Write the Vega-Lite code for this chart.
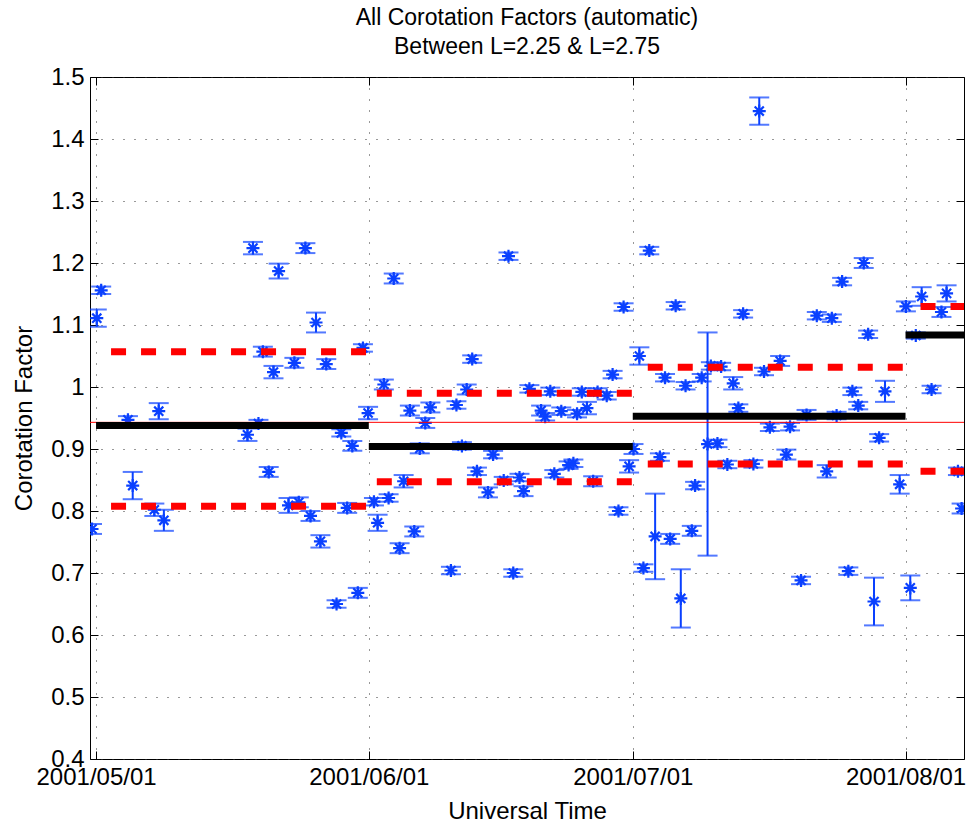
{
  "$schema": "https://vega.github.io/schema/vega-lite/v6.json",
  "width": 874,
  "height": 682,
  "autosize": {"type": "none"},
  "padding": {"left": 90, "top": 77, "right": 3, "bottom": 66},
  "background": "white",
  "title": {
    "text": ["All Corotation Factors (automatic)", "Between L=2.25 & L=2.75"],
    "font": "Liberation Sans",
    "fontSize": 23,
    "fontWeight": "normal",
    "color": "black",
    "offset": 6,
    "lineHeight": 29,
    "anchor": "middle"
  },
  "config": {
    "view": {"stroke": "black", "strokeWidth": 1},
    "axis": {
      "labelFont": "Liberation Sans",
      "titleFont": "Liberation Sans",
      "labelColor": "black",
      "titleColor": "black",
      "tickColor": "black",
      "domainColor": "black",
      "titleFontWeight": "normal"
    }
  },
  "datasets": {
    "pts": [
      {"t": "2001-04-30T13:00", "v": 0.771, "e": 0.008},
      {"t": "2001-05-01T02:00", "v": 1.111, "e": 0.014},
      {"t": "2001-05-01T14:00", "v": 1.156, "e": 0.006},
      {"t": "2001-05-04T15:00", "v": 0.947, "e": 0.006},
      {"t": "2001-05-05T04:00", "v": 0.841, "e": 0.022},
      {"t": "2001-05-07T15:00", "v": 0.802, "e": 0.01},
      {"t": "2001-05-08T03:00", "v": 0.961, "e": 0.013},
      {"t": "2001-05-08T17:00", "v": 0.785, "e": 0.017},
      {"t": "2001-05-18T05:00", "v": 0.923, "e": 0.01},
      {"t": "2001-05-18T20:00", "v": 1.224, "e": 0.01},
      {"t": "2001-05-19T11:00", "v": 0.941, "e": 0.006},
      {"t": "2001-05-19T23:00", "v": 1.057, "e": 0.008},
      {"t": "2001-05-20T15:00", "v": 0.863, "e": 0.008},
      {"t": "2001-05-21T04:00", "v": 1.024, "e": 0.01},
      {"t": "2001-05-21T18:00", "v": 1.187, "e": 0.012},
      {"t": "2001-05-22T21:00", "v": 0.809, "e": 0.012},
      {"t": "2001-05-23T13:00", "v": 1.039, "e": 0.008},
      {"t": "2001-05-24T01:00", "v": 0.814, "e": 0.008},
      {"t": "2001-05-24T19:00", "v": 1.224, "e": 0.008},
      {"t": "2001-05-25T09:00", "v": 0.792, "e": 0.008},
      {"t": "2001-05-26T00:00", "v": 1.104, "e": 0.016},
      {"t": "2001-05-26T12:00", "v": 0.751, "e": 0.01},
      {"t": "2001-05-27T04:00", "v": 1.037, "e": 0.008},
      {"t": "2001-05-28T08:00", "v": 0.65, "e": 0.006},
      {"t": "2001-05-28T21:00", "v": 0.926, "e": 0.006},
      {"t": "2001-05-29T13:00", "v": 0.805, "e": 0.008},
      {"t": "2001-05-30T03:00", "v": 0.905, "e": 0.008},
      {"t": "2001-05-30T18:00", "v": 0.668, "e": 0.008},
      {"t": "2001-05-31T08:00", "v": 1.063, "e": 0.006},
      {"t": "2001-05-31T22:00", "v": 0.958, "e": 0.01},
      {"t": "2001-06-01T14:00", "v": 0.815, "e": 0.006},
      {"t": "2001-06-02T00:00", "v": 0.781, "e": 0.013},
      {"t": "2001-06-02T17:00", "v": 1.004, "e": 0.008},
      {"t": "2001-06-03T06:00", "v": 0.821, "e": 0.006},
      {"t": "2001-06-03T20:00", "v": 1.175, "e": 0.008},
      {"t": "2001-06-04T12:00", "v": 0.74, "e": 0.008},
      {"t": "2001-06-04T23:00", "v": 0.848, "e": 0.01},
      {"t": "2001-06-05T16:00", "v": 0.962, "e": 0.008},
      {"t": "2001-06-06T04:00", "v": 0.767, "e": 0.008},
      {"t": "2001-06-06T19:00", "v": 0.901, "e": 0.008},
      {"t": "2001-06-07T10:00", "v": 0.942, "e": 0.008},
      {"t": "2001-06-08T00:00", "v": 0.967, "e": 0.008},
      {"t": "2001-06-10T08:00", "v": 0.704, "e": 0.006},
      {"t": "2001-06-10T23:00", "v": 0.971, "e": 0.006},
      {"t": "2001-06-11T14:00", "v": 0.905, "e": 0.006},
      {"t": "2001-06-12T03:00", "v": 0.996, "e": 0.008},
      {"t": "2001-06-12T18:00", "v": 1.045, "e": 0.006},
      {"t": "2001-06-13T07:00", "v": 0.864, "e": 0.006},
      {"t": "2001-06-14T13:00", "v": 0.83, "e": 0.008},
      {"t": "2001-06-15T03:00", "v": 0.891, "e": 0.006},
      {"t": "2001-06-16T08:00", "v": 0.849, "e": 0.006},
      {"t": "2001-06-16T21:00", "v": 1.211, "e": 0.006},
      {"t": "2001-06-17T10:00", "v": 0.7, "e": 0.006},
      {"t": "2001-06-18T03:00", "v": 0.854, "e": 0.006},
      {"t": "2001-06-18T14:00", "v": 0.832, "e": 0.008},
      {"t": "2001-06-19T06:00", "v": 0.997, "e": 0.006},
      {"t": "2001-06-20T14:00", "v": 0.962, "e": 0.008},
      {"t": "2001-06-21T01:00", "v": 0.952, "e": 0.006},
      {"t": "2001-06-21T15:00", "v": 0.993, "e": 0.006},
      {"t": "2001-06-22T02:00", "v": 0.86, "e": 0.006},
      {"t": "2001-06-22T21:00", "v": 0.961, "e": 0.006},
      {"t": "2001-06-23T17:00", "v": 0.874, "e": 0.006},
      {"t": "2001-06-24T06:00", "v": 0.877, "e": 0.006},
      {"t": "2001-06-24T16:00", "v": 0.957, "e": 0.006},
      {"t": "2001-06-25T05:00", "v": 0.992, "e": 0.006},
      {"t": "2001-06-25T19:00", "v": 0.966, "e": 0.01},
      {"t": "2001-06-26T12:00", "v": 0.848, "e": 0.008},
      {"t": "2001-06-27T00:00", "v": 0.992, "e": 0.006},
      {"t": "2001-06-28T01:00", "v": 0.986, "e": 0.006},
      {"t": "2001-06-28T17:00", "v": 1.02, "e": 0.006},
      {"t": "2001-06-29T09:00", "v": 0.8, "e": 0.006},
      {"t": "2001-06-29T23:00", "v": 1.129, "e": 0.006},
      {"t": "2001-06-30T14:00", "v": 0.872, "e": 0.01},
      {"t": "2001-07-01T02:00", "v": 0.9, "e": 0.008},
      {"t": "2001-07-01T18:00", "v": 1.05, "e": 0.014},
      {"t": "2001-07-02T05:00", "v": 0.708, "e": 0.006},
      {"t": "2001-07-02T21:00", "v": 1.22, "e": 0.006},
      {"t": "2001-07-03T13:00", "v": 0.759, "e": 0.069},
      {"t": "2001-07-04T02:00", "v": 0.887, "e": 0.006},
      {"t": "2001-07-04T16:00", "v": 1.015, "e": 0.006},
      {"t": "2001-07-05T06:00", "v": 0.755, "e": 0.008},
      {"t": "2001-07-05T21:00", "v": 1.131, "e": 0.006},
      {"t": "2001-07-06T11:00", "v": 0.659, "e": 0.047},
      {"t": "2001-07-07T00:00", "v": 1.002, "e": 0.006},
      {"t": "2001-07-07T17:00", "v": 0.768, "e": 0.008},
      {"t": "2001-07-08T02:00", "v": 0.841, "e": 0.006},
      {"t": "2001-07-08T20:00", "v": 1.015, "e": 0.006},
      {"t": "2001-07-09T12:00", "v": 0.908, "e": 0.18},
      {"t": "2001-07-09T21:00", "v": 1.034, "e": 0.006},
      {"t": "2001-07-10T15:00", "v": 0.909, "e": 0.006},
      {"t": "2001-07-11T01:00", "v": 1.033, "e": 0.006},
      {"t": "2001-07-11T18:00", "v": 0.875, "e": 0.006},
      {"t": "2001-07-12T10:00", "v": 1.006, "e": 0.01},
      {"t": "2001-07-13T00:00", "v": 0.966, "e": 0.006},
      {"t": "2001-07-13T13:00", "v": 1.118, "e": 0.006},
      {"t": "2001-07-14T17:00", "v": 0.876, "e": 0.006},
      {"t": "2001-07-15T09:00", "v": 1.445, "e": 0.022},
      {"t": "2001-07-15T22:00", "v": 1.025, "e": 0.006},
      {"t": "2001-07-16T14:00", "v": 0.935, "e": 0.006},
      {"t": "2001-07-17T18:00", "v": 1.042, "e": 0.008},
      {"t": "2001-07-18T11:00", "v": 0.891, "e": 0.008},
      {"t": "2001-07-18T21:00", "v": 0.936, "e": 0.006},
      {"t": "2001-07-20T03:00", "v": 0.688, "e": 0.006},
      {"t": "2001-07-20T18:00", "v": 0.955, "e": 0.008},
      {"t": "2001-07-21T22:00", "v": 1.115, "e": 0.006},
      {"t": "2001-07-23T01:00", "v": 0.864, "e": 0.01},
      {"t": "2001-07-23T15:00", "v": 1.111, "e": 0.006},
      {"t": "2001-07-24T04:00", "v": 0.954, "e": 0.006},
      {"t": "2001-07-24T19:00", "v": 1.17, "e": 0.006},
      {"t": "2001-07-25T12:00", "v": 0.703, "e": 0.006},
      {"t": "2001-07-25T23:00", "v": 0.993, "e": 0.006},
      {"t": "2001-07-26T15:00", "v": 0.97, "e": 0.006},
      {"t": "2001-07-27T06:00", "v": 1.2, "e": 0.008},
      {"t": "2001-07-27T18:00", "v": 1.085, "e": 0.006},
      {"t": "2001-07-28T10:00", "v": 0.654, "e": 0.0385},
      {"t": "2001-07-29T00:00", "v": 0.918, "e": 0.006},
      {"t": "2001-07-29T16:00", "v": 0.993, "e": 0.017},
      {"t": "2001-07-31T08:00", "v": 0.843, "e": 0.015},
      {"t": "2001-08-01T01:00", "v": 1.13, "e": 0.008},
      {"t": "2001-08-01T13:00", "v": 0.676, "e": 0.02},
      {"t": "2001-08-02T04:00", "v": 1.083, "e": 0.005},
      {"t": "2001-08-02T20:00", "v": 1.146, "e": 0.015},
      {"t": "2001-08-03T23:00", "v": 0.996, "e": 0.006},
      {"t": "2001-08-05T02:00", "v": 1.121, "e": 0.008},
      {"t": "2001-08-05T16:00", "v": 1.151, "e": 0.013},
      {"t": "2001-08-06T23:00", "v": 0.864, "e": 0.006},
      {"t": "2001-08-07T09:00", "v": 0.804, "e": 0.008}
    ],
    "lines": [
      {"k": "all", "m": 0, "t0": "2001-04-20T00:00", "t1": "2001-09-01T00:00", "y": 0.943},
      {"k": "mean", "m": 5, "t0": "2001-05-01T00:00", "t1": "2001-06-01T00:00", "y": 0.938},
      {"k": "sd", "m": 5, "t0": "2001-05-01T00:00", "t1": "2001-06-01T00:00", "y": 1.057},
      {"k": "sd", "m": 5, "t0": "2001-05-01T00:00", "t1": "2001-06-01T00:00", "y": 0.8075},
      {"k": "mean", "m": 6, "t0": "2001-06-01T00:00", "t1": "2001-07-01T00:00", "y": 0.904},
      {"k": "sd", "m": 6, "t0": "2001-06-01T00:00", "t1": "2001-07-01T00:00", "y": 0.99},
      {"k": "sd", "m": 6, "t0": "2001-06-01T00:00", "t1": "2001-07-01T00:00", "y": 0.847},
      {"k": "mean", "m": 7, "t0": "2001-07-01T00:00", "t1": "2001-08-01T00:00", "y": 0.953},
      {"k": "sd", "m": 7, "t0": "2001-07-01T00:00", "t1": "2001-08-01T00:00", "y": 1.032},
      {"k": "sd", "m": 7, "t0": "2001-07-01T00:00", "t1": "2001-08-01T00:00", "y": 0.876},
      {"k": "mean", "m": 8, "t0": "2001-08-01T00:00", "t1": "2001-09-01T00:00", "y": 1.084},
      {"k": "sd", "m": 8, "t0": "2001-08-01T00:00", "t1": "2001-09-01T00:00", "y": 1.13},
      {"k": "sd", "m": 8, "t0": "2001-08-01T00:00", "t1": "2001-09-01T00:00", "y": 0.864}
    ]
  },
  "layer": [
    {
      "data": {"name": "pts"},
      "encoding": {
        "x": {
          "field": "t", "type": "temporal",
          "scale": {"domain": [
            {"year": 2001, "month": 4, "date": 30, "hours": 7, "minutes": 30},
            {"year": 2001, "month": 8, "date": 7, "hours": 15, "minutes": 30}
          ]},
          "axis": {
            "orient": "bottom",
            "values": [
              {"year": 2001, "month": 5, "date": 1},
              {"year": 2001, "month": 6, "date": 1},
              {"year": 2001, "month": 7, "date": 1},
              {"year": 2001, "month": 8, "date": 1}
            ],
            "format": "%Y/%m/%d",
            "grid": true, "gridDash": [1, 10], "gridColor": "#333", "gridOpacity": 1,
            "tickSize": -8, "domain": false,
            "labelFontSize": 24, "labelPadding": 14, "labelFlush": false, "labelOverlap": false,
            "title": "Universal Time", "titleFontSize": 24, "titlePadding": 10
          }
        },
        "y": {
          "field": "v", "type": "quantitative",
          "scale": {"domain": [0.4, 1.5], "nice": false, "zero": false},
          "axis": {
            "orient": "left",
            "values": [0.4, 0.5, 0.6, 0.7, 0.8, 0.9, 1, 1.1, 1.2, 1.3, 1.4, 1.5],
            "format": ".2~f",
            "grid": true, "gridDash": [1, 10], "gridColor": "#333", "gridOpacity": 1,
            "tickSize": -8, "domain": false,
            "labelFontSize": 24, "labelPadding": 14,
            "title": "Corotation Factor", "titleFontSize": 24, "titlePadding": 14
          }
        }
      },
      "layer": [
        {
          "mark": {"type": "errorbar", "ticks": {"size": 20}, "thickness": 2, "color": "#0a40ff", "clip": true},
          "encoding": {"yError": {"field": "e"}}
        },
        {
          "mark": {
            "type": "point",
            "shape": "M-1,0L1,0M0,-1L0,1M-0.7,-0.7L0.7,0.7M-0.7,0.7L0.7,-0.7",
            "size": 169, "strokeWidth": 2.2, "color": "#0a40ff", "filled": false, "opacity": 1, "clip": true
          }
        }
      ]
    },
    {
      "data": {"name": "lines"},
      "encoding": {
        "x": {
          "field": "t0", "type": "temporal",
          "scale": {"domain": [
            {"year": 2001, "month": 4, "date": 30, "hours": 7, "minutes": 30},
            {"year": 2001, "month": 8, "date": 7, "hours": 15, "minutes": 30}
          ]},
          "axis": {
            "orient": "top",
            "values": [
              {"year": 2001, "month": 5, "date": 1},
              {"year": 2001, "month": 6, "date": 1},
              {"year": 2001, "month": 7, "date": 1},
              {"year": 2001, "month": 8, "date": 1}
            ],
            "labels": false, "grid": false, "domain": false, "tickSize": -8, "title": null
          }
        },
        "x2": {"field": "t1"},
        "y": {
          "field": "y", "type": "quantitative",
          "scale": {"domain": [0.4, 1.5], "nice": false, "zero": false},
          "axis": {
            "orient": "right",
            "values": [0.4, 0.5, 0.6, 0.7, 0.8, 0.9, 1, 1.1, 1.2, 1.3, 1.4, 1.5],
            "labels": false, "grid": false, "domain": false, "tickSize": -8, "title": null
          }
        }
      },
      "layer": [
        {
          "transform": [{"filter": "datum.k == 'all'"}],
          "mark": {"type": "rule", "color": "#ff0000", "strokeWidth": 1, "clip": true}
        },
        {
          "transform": [{"filter": "datum.k == 'mean'"}],
          "mark": {"type": "rule", "color": "#000000", "strokeWidth": 7, "clip": true}
        },
        {
          "transform": [{"filter": "datum.k == 'sd' && datum.m != 6"}],
          "mark": {"type": "rule", "color": "#ff0000", "strokeWidth": 7, "strokeDash": [15, 15], "strokeDashOffset": 15, "clip": true}
        },
        {
          "transform": [{"filter": "datum.k == 'sd' && datum.m == 6"}],
          "mark": {"type": "rule", "color": "#ff0000", "strokeWidth": 7, "strokeDash": [15, 15], "strokeDashOffset": 22, "clip": true}
        }
      ]
    }
  ],
  "resolve": {"scale": {"x": "independent", "y": "independent"}}
}
